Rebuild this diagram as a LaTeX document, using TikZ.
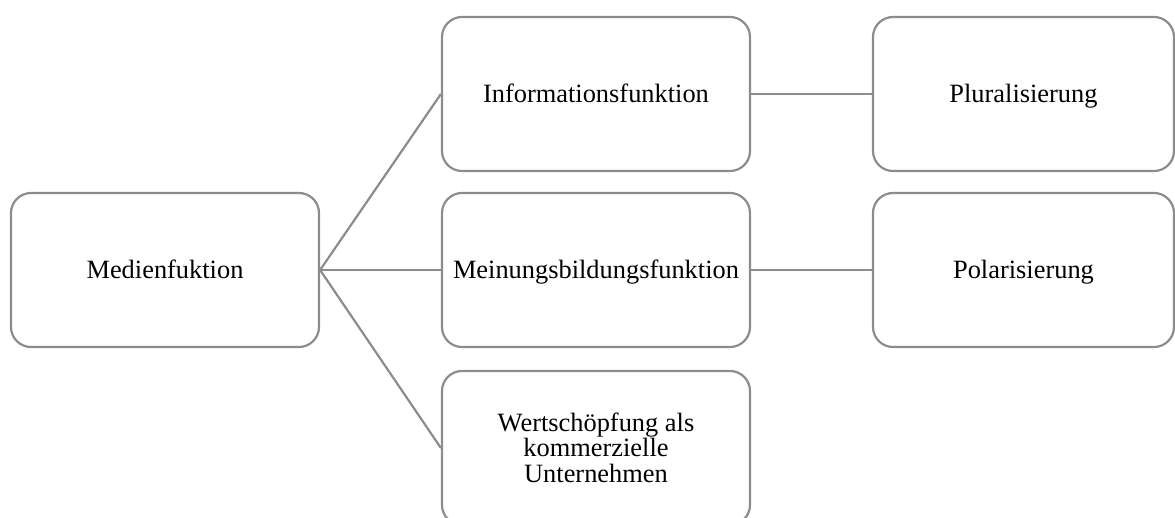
\documentclass[tikz,border=0pt]{standalone}
\usepackage{fontspec}
\setmainfont{Liberation Serif}
\definecolor{boxgray}{HTML}{8C8C8C}
% fixed strut so all labels share the same baseline position
\newcommand{\tstrut}{\rule[-2.5pt]{0pt}{14pt}}
\tikzset{
  fbox/.style={draw=boxgray, line width=1.1pt, rounded corners=10pt, fill=white,
    minimum width=154pt, minimum height=77pt, inner sep=2pt,
    align=center, font=\fontsize{13.2}{12.8}\selectfont},
  link/.style={draw=boxgray, line width=1.1pt}
}
\begin{document}
\begin{tikzpicture}[x=0.5pt, y=-0.5pt]
  \useasboundingbox (0,0) rectangle (1175,518);
  \clip (0,0) rectangle (1175,518);
  % root
  \node[fbox] (med) at (165,270) {\tstrut Medienfuktion};
  % functions
  \node[fbox] (inf) at (596,94) {\tstrut Informationsfunktion};
  \node[fbox] (mei) at (596,270) {\tstrut Meinungsbildungsfunktion};
  \node[fbox] (wer) at (596,448) {\tstrut Wertschöpfung als\\kommerzielle\\Unternehmen\tstrut};
  % effects
  \node[fbox, minimum width=150.5pt] (plu) at (1023.5,94) {\tstrut Pluralisierung};
  \node[fbox, minimum width=150.5pt] (pol) at (1023.5,270) {\tstrut Polarisierung};
  % connectors
  \draw[link] (med.east) -- (inf.west);
  \draw[link] (med.east) -- (mei.west);
  \draw[link] (med.east) -- (wer.west);
  \draw[link] (inf.east) -- (plu.west);
  \draw[link] (mei.east) -- (pol.west);
\end{tikzpicture}
\end{document}
